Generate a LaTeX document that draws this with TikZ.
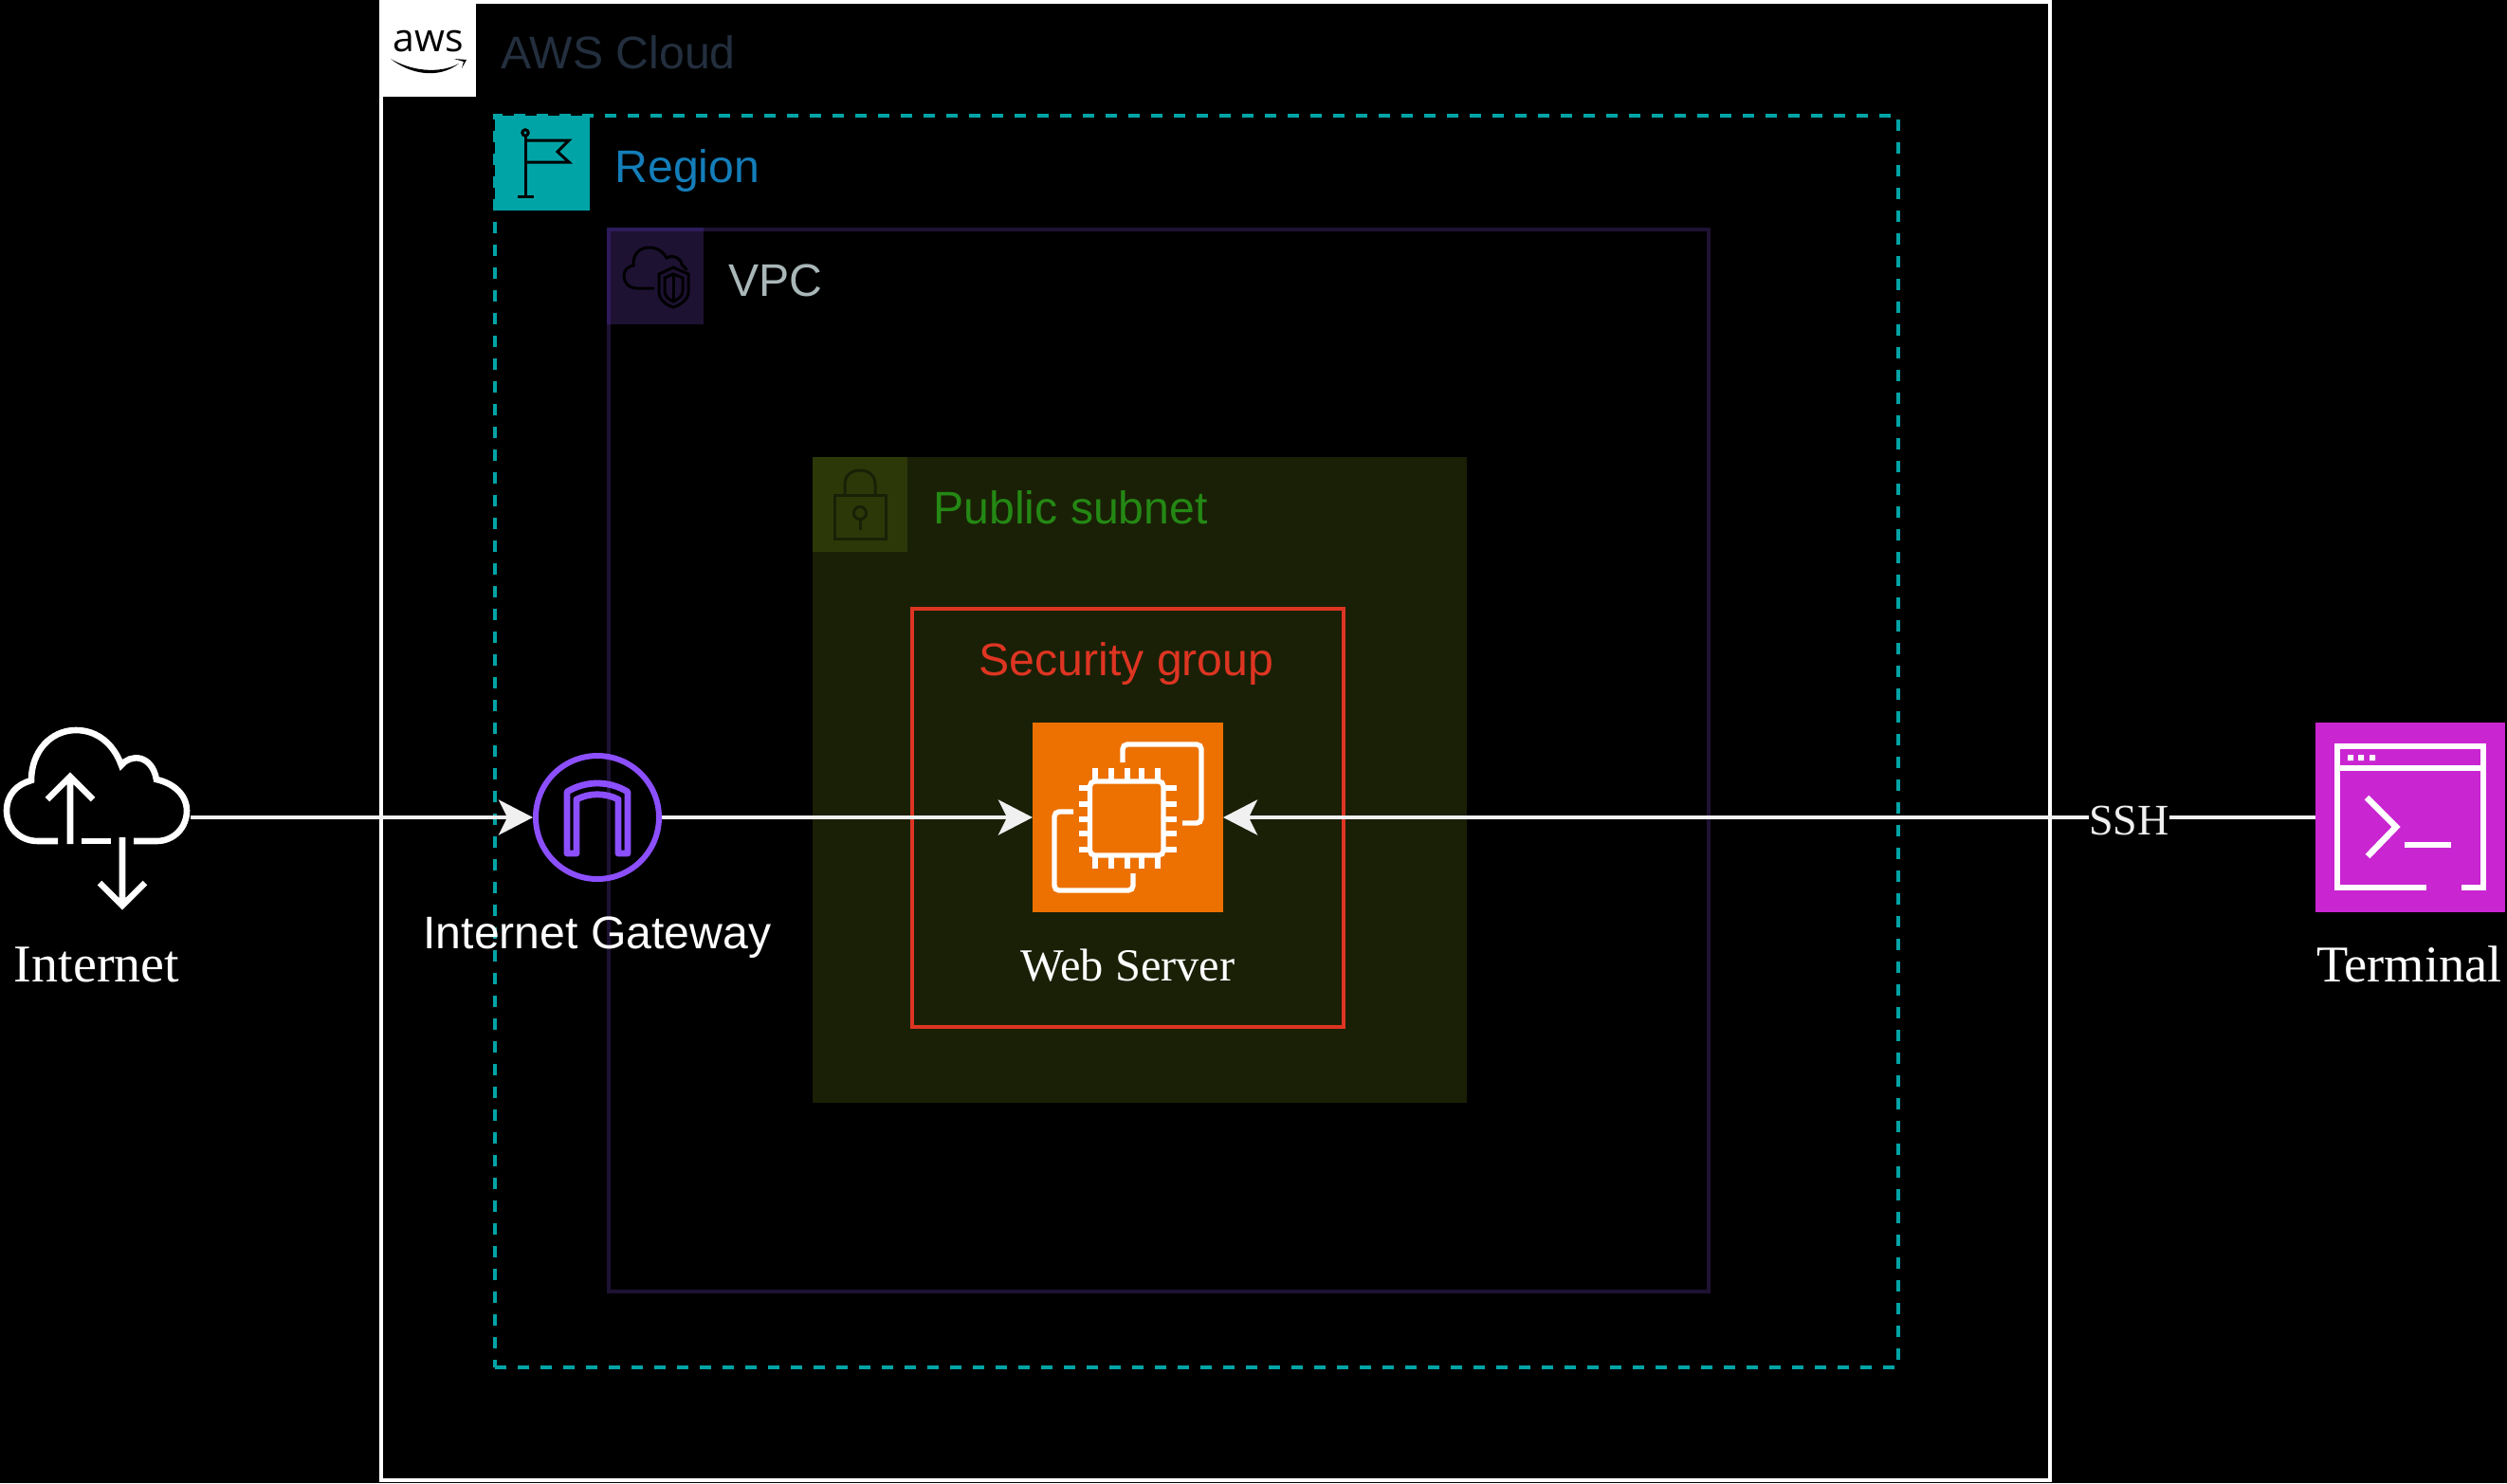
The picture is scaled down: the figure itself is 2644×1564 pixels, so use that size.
\documentclass[tikz,border=0pt]{standalone}
\usepackage{fontspec}
\setmainfont{Liberation Sans}
\newfontfamily\lserif{Liberation Serif}
\newfontfamily\lopen{Open Sans}
\usetikzlibrary{arrows.meta}
\definecolor{linew}{HTML}{F0F0F0}
\definecolor{awsink}{HTML}{232F3E}
\definecolor{regionc}{HTML}{01A4A6}
\definecolor{regiont}{HTML}{147EBA}
\definecolor{vpcl}{HTML}{1E1233}
\definecolor{vpcb}{HTML}{2D1B5C}
\definecolor{vpcf}{HTML}{1E1233}
\definecolor{vpct}{HTML}{AAB7B8}
\definecolor{subf}{HTML}{1A2006}
\definecolor{subi}{HTML}{2D3809}
\definecolor{subt}{HTML}{248814}
\definecolor{secc}{HTML}{DD3522}
\definecolor{ec2c}{HTML}{ED7100}
\definecolor{termc}{HTML}{C925D1}
\definecolor{igwc}{HTML}{8C4FFF}
\tikzset{
  x=.5pt,y=-.5pt,
  sized/.style 2 args={rectangle,anchor=north west,outer sep=0pt,inner sep=0pt,
    minimum width=#1*.5pt,minimum height=#2*.5pt},
  sanslabel/.style={inner sep=0pt,anchor=base west,font=\fontsize{24.1pt}{28pt}\selectfont},
  seriflabel/.style={inner sep=0pt,anchor=base,text=white,font=\lserif\fontsize{24.2pt}{28pt}\selectfont},
  flow/.style={draw=linew,line width=2pt,-{Stealth[length=18pt,width=18.5pt,inset=4.5pt]}},
  ico/.style={draw=white,line width=3.3pt,line join=miter},
  thinico/.style={draw=black,line width=1.5pt},
  rc/.style={rounded corners=2.5pt},
}
\begin{document}
\begin{tikzpicture}
\useasboundingbox (0,0) rectangle (2644,1564);
\fill[black] (0,0) rectangle (2644,1564);

% containers
\node[sized={1760}{1559},draw=white,line width=2pt] (cloud) at (402,2) {};
\node[sized={98}{98},fill=white] (awslogo) at (404,4) {};
\node[sized={100}{100},fill=regionc] (regicon) at (522,122) {};
\node[sized={1480}{1320},draw=regionc,line width=2pt,dash pattern=on 6pt off 6pt] (region) at (522,122) {};
\node[sized={1160}{1120},draw=vpcl,line width=2pt] (vpc) at (642,242) {};
\node[sized={100}{100},fill=vpcf] (vpcicon) at (642,242) {};
\draw[draw=vpcb,line width=2pt] (vpcicon.south west) -- (vpcicon.north west) -- (vpcicon.north east);
\node[sized={690}{681},fill=subf] (subnet) at (857,482) {};
\node[sized={100}{100},fill=subi] (subicon) at (857,482) {};
\node[sized={455}{441},draw=secc,line width=2pt] (secgrp) at (962,642) {};

% titles
\node[sanslabel,text=awsink] (tcloud) at (528,72) {AWS Cloud};
\node[sanslabel,text=regiont] (tregion) at (648,192) {Region};
\node[sanslabel,text=vpct] (tvpc) at (768,312) {VPC};
\node[sanslabel,text=subt] (tsubnet) at (984,552) {Public subnet};
\node[sanslabel,anchor=base,text=secc] (tsec) at (1188,712) {Security group};

% service nodes
\node[sized={198}{200}] (internet) at (3,762) {};
\node[circle,inner sep=0pt,outer sep=0pt,minimum size=68pt] (igw) at (630,862) {};
\node[sized={201}{200},fill=ec2c] (ec2) at (1089,762) {};
\node[sized={200}{200},fill=termc] (term) at (2442,762) {};

% connectors
\draw[flow] (internet.east) -- (igw.west);
\draw[flow] (igw.east) -- (ec2.west);
\draw[flow] (term.west) -- (ec2.east);
\node[inner sep=0pt,anchor=base,fill=black,text=linew,font=\lserif\fontsize{23pt}{28pt}\selectfont] (ssh) at (2245.5,880) {SSH};

% AWS logo
\node[inner sep=0pt,anchor=base,text=black,font=\lopen\fontsize{20.5pt}{24pt}\selectfont] (awstext) at (452,54) {aws};
\fill[black] (412,62) .. controls (432,78) and (462,84) .. (484,67) .. controls (462,79) and (432,74) .. (412,62) -- cycle;
\fill[black] (479,62) -- (492,63) -- (487,72) -- (489,65) -- cycle;

% region flag
\draw[thinico] (554,143) -- (554,207) (546,207) -- (563,207);
\draw[thinico] (554,140) circle[radius=1.6pt];
\draw[thinico] (554,148) -- (600,148) -- (588,160) -- (600,171) -- (554,171);

% VPC cloud and shield
\draw[thinico,line cap=round] (689,304) -- (672,304) .. controls (662,304) and (658,297) .. (658,291)
  .. controls (658,285) and (662,281) .. (668,280)
  .. controls (667,268) and (675,261) .. (684,261)
  .. controls (694,261) and (700,266) .. (703,272)
  .. controls (710,268) and (718,272) .. (719,279) -- (724,284);
\draw[thinico,fill=vpcf] (695,289) -- (710,282) -- (726,289) -- (726,308) .. controls (726,316) and (717,322) .. (710,324)
  .. controls (703,322) and (695,316) .. (695,308) -- cycle;
\draw[thinico] (701,293) -- (710,289) -- (720,293) -- (720,307) .. controls (720,313) and (714,316) .. (710,318)
  .. controls (706,316) and (701,313) .. (701,307) -- cycle;
\draw[thinico] (710,289) -- (710,318);

% subnet lock
\draw[draw=subf,line width=1.5pt] (880,522) rectangle (934,568);
\draw[draw=subf,line width=1.5pt] (891,522) -- (891,511) .. controls (891,501) and (898,496) .. (907,496)
  .. controls (916,496) and (923,501) .. (923,511) -- (923,522);
\draw[draw=subf,line width=1.5pt] (907,541) circle[radius=3.3pt];
\draw[draw=subf,line width=1.5pt] (907,548) -- (907,559);

% internet icon
\draw[ico] (61,887) -- (40,887) .. controls (20,887) and (7,872) .. (7,855)
  .. controls (7,838) and (18,827) .. (33,823)
  .. controls (33,792) and (54,770) .. (80,770)
  .. controls (103,770) and (120,785) .. (128,807)
  .. controls (137,795) and (160,795) .. (165,822)
  .. controls (183,826) and (197,838) .. (197,855)
  .. controls (197,872) and (184,887) .. (165,887) -- (141,887);
\draw[ico] (86,887) -- (117,887);
\draw[ico] (74,890) -- (74,820) (50,843) -- (74,819) -- (98,843);
\draw[ico] (129,883) -- (129,955) (105,931) -- (129,955) -- (153,931);

% internet gateway icon
\draw[draw=igwc,line width=3pt] (630,862) circle[radius=32.5pt];
\draw[draw=igwc,line width=3.4pt,line join=round] (598,900) -- (598,835)
  .. controls (618,823) and (642,823) .. (662,835) -- (662,900) -- (652,900) -- (652,843)
  .. controls (638,836) and (622,836) .. (608,843) -- (608,900) -- cycle;

% EC2 icon
\draw[draw=white,line width=2.7pt,rc] (1149.5,824) rectangle (1227,902);
\foreach \px in {1155,1172,1189,1204,1221}{
  \draw[white,line width=2.7pt] (\px,810) -- (\px,824) (\px,902) -- (\px,916);
}
\foreach \py in {831,848,864,879,896}{
  \draw[white,line width=2.7pt] (1138,\py) -- (1149.5,\py) (1227,\py) -- (1241,\py);
}
\draw[white,line width=2.7pt,rc] (1184,804) -- (1184,785) -- (1267,785) -- (1267,868) -- (1247,868);
\draw[white,line width=2.7pt,rc] (1132,856) -- (1112,856) -- (1112,939) -- (1195,939) -- (1195,921);

% terminal icon
\draw[ico] (2559,936) -- (2465,936) -- (2465,787) -- (2619,787) -- (2619,936) -- (2596,936);
\draw[ico] (2465,810) -- (2619,810);
\fill[white] (2476,796) rectangle (2482,802) (2487,796) rectangle (2493,802) (2499,796) rectangle (2505,802);
\draw[ico] (2496,841) -- (2527,872) -- (2497,903);
\draw[ico] (2536,891) -- (2585,891);

% labels
\node[seriflabel,font=\lserif\fontsize{28pt}{32pt}\selectfont] (linternet) at (102,1035) {Internet};
\node[sanslabel,anchor=base,text=white] (ligw) at (630,1000) {Internet Gateway};
\node[seriflabel] (lweb) at (1189.5,1034) {Web Server};
\node[seriflabel,font=\lserif\fontsize{27.2pt}{32pt}\selectfont] (lterm) at (2541,1035) {Terminal};
\end{tikzpicture}
\end{document}
